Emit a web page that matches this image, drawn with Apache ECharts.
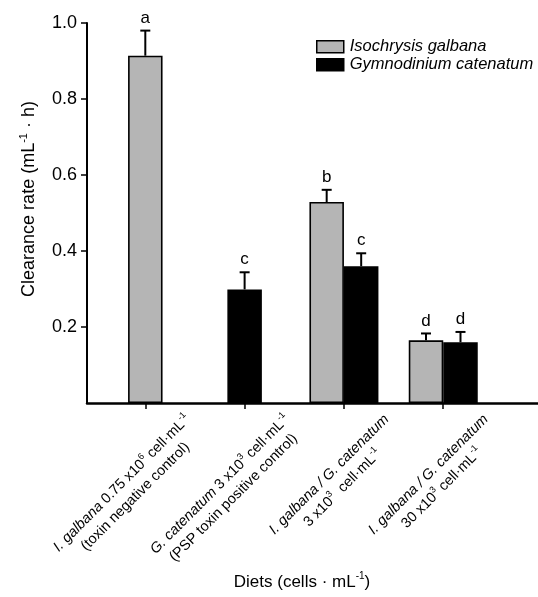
<!DOCTYPE html>
<html><head><meta charset="utf-8">
<script src="https://cdn.jsdelivr.net/npm/echarts@6/dist/echarts.min.js"></script>
<style>html,body{margin:0;padding:0;background:#fff}#c{width:538px;height:597px}</style>
</head><body><div id="c"></div>
<script>
// ---- data ----
const categories = [
  '{i|I. galbana }{n|0.75 x10}{s|6}{n| cell·mL}{s|-1}\n{n|(toxin negative control)}',
  '{i|G. catenatum }{n|3 x10}{s|3}{n| cell·mL}{s|-1}\n{n|(PSP toxin positive control)}',
  '{i|I. galbana / G. catenatum}\n{n|3 x10}{s|3}{n|  cell·mL}{s|-1}',
  '{i|I. galbana / G. catenatum}\n{n|30 x10}{s|3}{n| cell·mL}{s|-1}'
];
const seriesNames = ['Isochrysis galbana', 'Gymnodinium catenatum'];
const isoMean = [0.914, null, 0.529, 0.165];
const isoErr = [0.066, null, 0.032, 0.018];
const isoLetters = ['a', null, 'b', 'd'];
const gymMean = [null, 0.299, 0.360, 0.160];
const gymErr = [null, 0.045, 0.034, 0.027];
const gymLetters = [null, 'c', 'c', 'd'];
const yTicks = [0.2, 0.4, 0.6, 0.8, 1.0];

// ---- layout / style ----
const FONT = 'Liberation Sans';
const BAR_W = 34.5;
const GRAY = '#b5b5b5';

const paired = isoMean.map((v, i) => v != null && gymMean[i] != null);
const singleIso = isoMean.map((v, i) => (v != null && !paired[i]) ? v : '-');
const singleGym = gymMean.map((v, i) => (v != null && !paired[i]) ? v : '-');
const pairIso = isoMean.map((v, i) => paired[i] ? v : '-');
const pairGym = gymMean.map((v, i) => paired[i] ? v : '-');

const errItems = [];
[[isoMean, isoErr, isoLetters], [gymMean, gymErr, gymLetters]].forEach(([m, e, l], s) => {
  m.forEach((v, i) => {
    if (v == null) return;
    errItems.push({cat: i, mean: v, err: e[i], letter: l[i], side: paired[i] ? (s === 0 ? -1 : 1) : 0});
  });
});

const grayStyle = {color: GRAY, borderColor: '#000', borderWidth: 1.6};
const blackStyle = {color: '#000', borderColor: '#000', borderWidth: 1.6};

const chart = echarts.init(document.getElementById('c'), null, {renderer: 'canvas'});
chart.setOption({
  animation: false,
  backgroundColor: '#fff',
  grid: [
    {left: 87, right: 0, top: 23, bottom: 194, containLabel: false, outerBoundsMode: 'none'},
    {left: 95.65, right: 45.1, top: 23, bottom: 194, containLabel: false, outerBoundsMode: 'none'}
  ],
  legend: {
    data: seriesNames, orient: 'vertical', left: 316, top: 38.2, padding: 0,
    itemWidth: 27, itemHeight: 12, itemGap: 1, icon: 'rect', selectedMode: false,
    itemStyle: {borderColor: '#000', borderWidth: 1.5},
    textStyle: {fontFamily: FONT, fontSize: 16.5, fontStyle: 'italic', color: '#000', lineHeight: 17, padding: [0, 0, 0, 1]}
  },
  xAxis: [
    {gridIndex: 0, type: 'value', min: 0, max: 1,
     axisLine: {show: true, onZero: false, lineStyle: {color: '#000', width: 2.5}},
     axisTick: {show: false}, axisLabel: {show: false}, splitLine: {show: false}},
    {gridIndex: 1, type: 'category', data: categories,
     axisLine: {show: false},
     axisTick: {show: true, alignWithLabel: true, length: 6, lineStyle: {color: '#000', width: 1.5}},
     axisLabel: {
       interval: 0, rotate: 45, margin: 8, padding: [88, -26, 0, 0], align: 'right', verticalAlign: 'middle',
       color: '#000', fontFamily: FONT, fontSize: 14.5,
       rich: {
         i: {fontFamily: FONT, fontSize: 14.5, fontStyle: 'italic', lineHeight: 19, align: 'center', color: '#000'},
         n: {fontFamily: FONT, fontSize: 14.5, lineHeight: 19, align: 'center', color: '#000'},
         s: {fontFamily: FONT, fontSize: 9, lineHeight: 10, verticalAlign: 'top', align: 'center', color: '#000'}
       }
     },
     splitLine: {show: false}},
    {gridIndex: 1, type: 'category', data: categories, show: false}
  ],
  yAxis: [
    {gridIndex: 0, type: 'value', min: 0, max: 1, interval: 0.2,
     axisLine: {show: true, lineStyle: {color: '#000', width: 2}},
     axisTick: {show: true, length: 6, customValues: yTicks, lineStyle: {color: '#000', width: 1.5}},
     axisLabel: {customValues: yTicks, formatter: v => v.toFixed(1), fontFamily: FONT, fontSize: 18, color: '#000', margin: 10},
     splitLine: {show: false}},
    {gridIndex: 1, type: 'value', min: 0, max: 1, show: false}
  ],
  series: [
    {type: 'bar', name: seriesNames[0], xAxisIndex: 1, yAxisIndex: 1, barWidth: BAR_W, barGap: '-100%', data: singleIso, itemStyle: grayStyle},
    {type: 'bar', name: seriesNames[1], xAxisIndex: 1, yAxisIndex: 1, barWidth: BAR_W, barGap: '-100%', data: singleGym, itemStyle: blackStyle},
    {type: 'bar', name: seriesNames[0], xAxisIndex: 2, yAxisIndex: 1, barWidth: BAR_W, barGap: '0%', data: pairIso, itemStyle: grayStyle},
    {type: 'bar', name: seriesNames[1], xAxisIndex: 2, yAxisIndex: 1, barWidth: BAR_W, barGap: '0%', data: pairGym, itemStyle: blackStyle},
    {type: 'custom', xAxisIndex: 1, yAxisIndex: 1, z: 10,
     data: errItems.map(e => [e.cat, e.mean, e.mean + e.err]),
     renderItem: (params, api) => {
       const e = errItems[params.dataIndex];
       const base = api.coord([api.value(0), api.value(1)]);
       const top = api.coord([api.value(0), api.value(2)]);
       const x = base[0] + e.side * BAR_W / 2;
       return {type: 'group', children: [
         {type: 'line', shape: {x1: x, y1: base[1], x2: x, y2: top[1]}, style: {stroke: '#000', lineWidth: 2}},
         {type: 'line', shape: {x1: x - 5, y1: top[1], x2: x + 5, y2: top[1]}, style: {stroke: '#000', lineWidth: 2}},
         {type: 'text', style: {text: e.letter, x: x, y: top[1] - 4, align: 'center', verticalAlign: 'bottom',
           fontFamily: FONT, fontSize: 17, fill: '#000'}}
       ]};
     }}
  ],
  graphic: [
    {type: 'text', x: 29, y: 199, rotation: Math.PI / 2,
     style: {text: '{n|Clearance rate (mL}{s|-1}{n| · h)}', align: 'center', verticalAlign: 'middle', fill: '#000',
       rich: {n: {fontFamily: FONT, fontSize: 18, lineHeight: 22, fill: '#000'},
              s: {fontFamily: FONT, fontSize: 11, lineHeight: 12, verticalAlign: 'top', fill: '#000'}}}},
    {type: 'text', x: 302, y: 582,
     style: {text: '{n|Diets (cells · mL}{s|-1}{n|)}', align: 'center', verticalAlign: 'middle', fill: '#000',
       rich: {n: {fontFamily: FONT, fontSize: 17, lineHeight: 21, fill: '#000'},
              s: {fontFamily: FONT, fontSize: 10, lineHeight: 11, verticalAlign: 'top', fill: '#000'}}}}
  ]
});
</script></body></html>
